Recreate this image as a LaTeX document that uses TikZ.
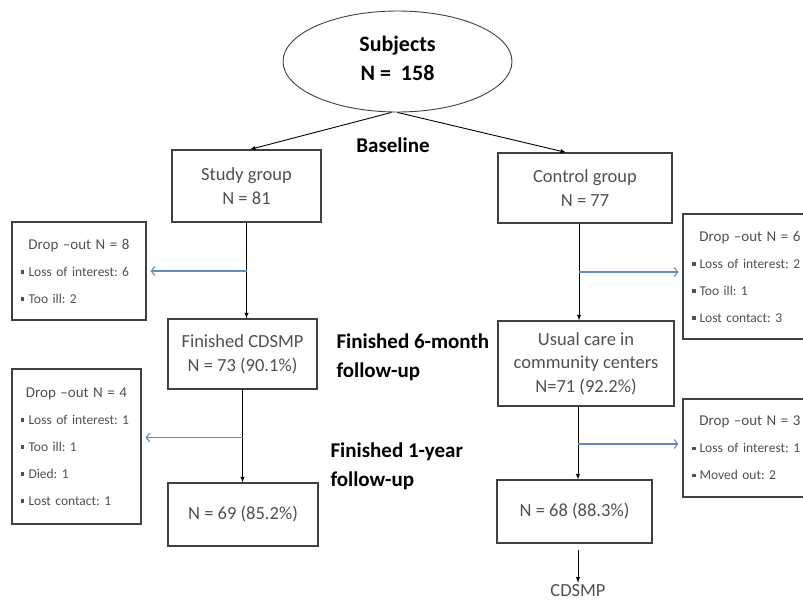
\documentclass[tikz,border=0pt]{standalone}
\usepackage{fontspec}
\setmainfont{Carlito}
\usetikzlibrary{shapes.geometric, arrows.meta}
\definecolor{cohortline}{HTML}{404040}
\definecolor{cohorttext}{HTML}{505050}
\definecolor{lossblue}{HTML}{5B8BD0}
\frenchspacing
\newcommand{\sqbul}{\rule[2.5pt]{3.5pt}{3.5pt}\hspace{4pt}}
\newcommand{\droptitle}[1]{\makebox[\linewidth]{\fontsize{15}{27}\selectfont #1}}

\begin{document}
\begin{tikzpicture}[x=1pt, y=-1pt,
    box/.style={draw=cohortline, line width=1.2pt, text=cohorttext, align=center,
      font=\fontsize{18.5}{24}\selectfont, inner sep=0pt},
    dropbox/.style={draw=cohortline, line width=1.2pt, text=cohorttext, align=left,
      font=\fontsize{13.5}{27}\selectfont, inner xsep=9pt, inner ysep=0pt},
    stage/.style={font=\fontsize{21}{29}\selectfont\bfseries, align=left, anchor=west},
    flow/.style={draw=black, line width=0.9pt, -latex},
    lost/.style={draw=lossblue, line width=1.1pt, -{Straight Barb[length=3.5pt, width=9pt]},
      shorten >=4pt}]
  \useasboundingbox (0,0) rectangle (803,603);
  \clip (0,0) rectangle (803,603);

  % all subjects at baseline
  \node[draw=cohortline, line width=0.9pt, ellipse, minimum width=229pt, minimum height=101pt,
    inner sep=0pt, align=center, font=\fontsize{22}{29}\selectfont\bfseries]
    (subj) at (397.5,61.5) {Subjects\\N = \ 158\\[-22pt]\mbox{}};
  \node[font=\fontsize{21}{24}\selectfont\bfseries] (base) at (393,145) {Baseline};

  % study arm
  \node[box, minimum width=149pt, minimum height=72pt] (study) at (246.5,186) {Study group\\N = 81};
  \node[box, minimum width=149pt, minimum height=70pt] (fin6) at (242.5,354) {Finished CDSMP\\N = 73 (90.1\%)};
  \node[box, minimum width=150pt, minimum height=63pt] (n69) at (243,514.5) {N = 69 (85.2\%)};
  \node[dropbox, text width=116pt, minimum height=98pt] (drop1) at (79,271)
    {\droptitle{Drop –out N = 8}\\ \sqbul Loss of interest: 6\\ \sqbul Too ill: 2};
  \node[dropbox, text width=111pt, minimum height=155pt] (drop2) at (76.5,446.5)
    {\droptitle{Drop –out N = 4}\\ \sqbul Loss of interest: 1\\ \sqbul Too ill: 1\\
     \sqbul Died: 1\\ \sqbul Lost contact: 1};

  % control arm
  \node[box, minimum width=174pt, minimum height=70pt] (ctrl) at (585,188) {Control group\\N = 77};
  \node[box, minimum width=176pt, minimum height=85pt, font=\fontsize{18.5}{23.5}\selectfont]
    (usual) at (586,363.5) {Usual care in\\community centers\\N=71 (92.2\%)};
  \node[box, minimum width=155pt, minimum height=63pt] (n68) at (574.5,511.5) {N = 68 (88.3\%)};
  \node[text=cohorttext, font=\fontsize{18.5}{24}\selectfont, inner ysep=2pt] (cdsmp) at (578,591) {CDSMP};
  \node[dropbox, text width=116pt, minimum height=125pt] (drop3) at (750,276.5)
    {\droptitle{Drop –out N = 6}\\ \sqbul Loss of interest: 2\\ \sqbul Too ill: 1\\
     \sqbul Lost contact: 3};
  \node[dropbox, text width=116pt, minimum height=98pt] (drop4) at (750,448)
    {\droptitle{Drop –out N = 3}\\ \sqbul Loss of interest: 1\\ \sqbul Moved out: 2};

  % follow-up stages
  \node[stage] (fu6) at (333,357.5) {Finished 6-month\\follow-up};
  \node[stage] (fu12) at (327,466.5) {Finished 1-year\\follow-up};

  % flow lines
  \draw[flow] ([xshift=-6pt]subj.south) -- ([xshift=3.5pt]study.north);
  \draw[flow] (subj.south) -- ([xshift=-19pt]ctrl.north);
  \draw[flow] (study.south) -- (study.south |- fin6.north);
  \draw[flow] (fin6.south) -- (fin6.south |- n69.north);
  \coordinate (rtop) at ([xshift=-6pt]ctrl.south);
  \coordinate (rmid) at ([xshift=-8pt]usual.south);
  \draw[flow] (rtop) -- (rtop |- usual.north);
  \draw[flow] (rmid) -- (rmid |- n68.north);
  \draw[flow, shorten <=6pt] ([xshift=3.5pt]n68.south) -- (cdsmp.north);

  % drop-outs
  \coordinate (l2) at ([yshift=9pt]drop2.east);
  \coordinate (r1) at ([yshift=4.5pt]drop3.west);
  \coordinate (r2) at ([yshift=4pt]drop4.west);
  \draw[lost] (study.south |- drop1.east) -- (drop1.east);
  \draw[lost] (fin6.south |- l2) -- (l2);
  \draw[lost] (rtop |- r1) -- (r1);
  \draw[lost] (rmid |- r2) -- (r2);
\end{tikzpicture}
\end{document}
